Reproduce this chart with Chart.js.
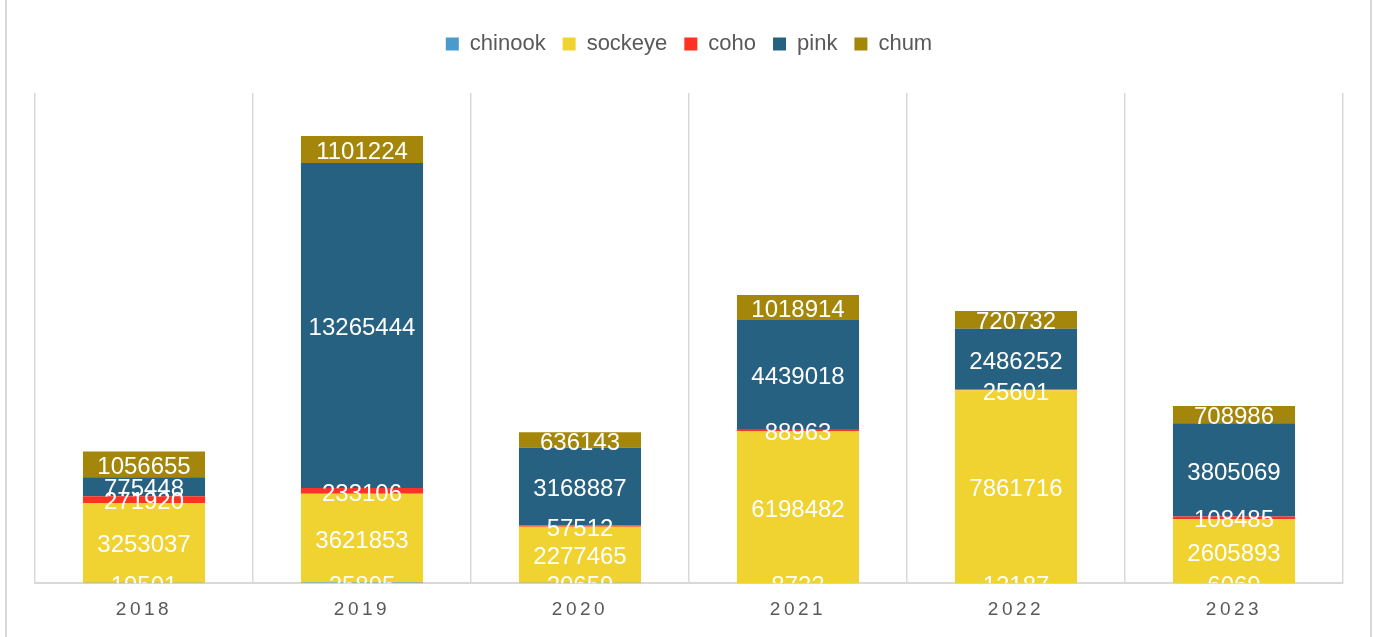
<!DOCTYPE html>
<html>
<head>
<meta charset="utf-8">
<script src="https://cdn.jsdelivr.net/npm/chart.js@4/dist/chart.umd.min.js"></script>
<style>
  body { margin: 0; background: #fff; }
  #wrap { position: relative; width: 1374px; height: 637px; }
</style>
</head>
<body>
<div id="wrap"><canvas id="myChart" width="1374" height="637"></canvas></div>
<script>
const years = ['2018', '2019', '2020', '2021', '2022', '2023']
const chinook = [19501, 25895, 20659, 8722, 12187, 6069]
const sockeye = [3253037, 3621853, 2277465, 6198482, 7861716, 2605893]
const coho = [271920, 233106, 57512, 88963, 25601, 108485]
const pink = [775448, 13265444, 3168887, 4439018, 2486252, 3805069]
const chum = [1056655, 1101224, 636143, 1018914, 720732, 708986]

const gridGrey = '#d9d9d9'
const textGrey = '#595959'

// white numbers centred in every segment, cut off at the plot edges
const segmentLabels = {
    id: 'segmentLabels',
    afterDatasetsDraw(chart) {
        const ctx = chart.ctx
        const area = chart.chartArea
        ctx.save()
        ctx.beginPath()
        ctx.rect(area.left, area.top, area.right - area.left, area.bottom - area.top)
        ctx.clip()
        ctx.font = '24px "Liberation Sans", Arial, sans-serif'
        ctx.fillStyle = '#ffffff'
        ctx.textAlign = 'center'
        ctx.textBaseline = 'middle'
        chart.data.datasets.forEach((ds, i) => {
            chart.getDatasetMeta(i).data.forEach((bar, j) => {
                ctx.fillText(String(ds.data[j]), bar.x, (bar.y + bar.base) / 2 + 3)
            })
        })
        ctx.restore()
    }
}

// extra room under the legend, spaced-out year labels, frame lines on both sides
const extras = {
    id: 'extras',
    beforeInit(chart) {
        const legend = chart.legend
        const fit = legend.fit.bind(legend)
        legend.fit = function () {
            fit()
            this.height += 28
        }
    },
    afterLayout(chart) {
        const s = chart.scales.x
        if (!s._spaced) {
            const orig = s.drawLabels.bind(s)
            s.drawLabels = (a) => {
                chart.ctx.letterSpacing = '3.5px'
                orig(a)
                chart.ctx.letterSpacing = '0px'
            }
            s._spaced = true
        }
    },
    afterDraw(chart) {
        const ctx = chart.ctx
        ctx.save()
        ctx.strokeStyle = gridGrey
        ctx.lineWidth = 2
        ctx.beginPath()
        ctx.moveTo(6, 0); ctx.lineTo(6, chart.height)
        ctx.moveTo(1371, 0); ctx.lineTo(1371, chart.height)
        ctx.stroke()
        ctx.restore()
    }
}

const ctx = document.getElementById('myChart')
new Chart(ctx, {
    type: 'bar',
    data: {
        labels: years,
        datasets: [
            { label: 'chinook', data: chinook, backgroundColor: '#4a9bcb' },
            { label: 'sockeye', data: sockeye, backgroundColor: '#f0d231' },
            { label: 'coho', data: coho, backgroundColor: '#ff3124' },
            { label: 'pink', data: pink, backgroundColor: '#266181' },
            { label: 'chum', data: chum, backgroundColor: '#a3860a' }
        ]
    },
    options: {
        responsive: false,
        animation: false,
        barPercentage: 0.56,
        categoryPercentage: 1,
        layout: { padding: { left: 35, right: 31, top: 16, bottom: 1 } },
        plugins: {
            tooltip: { enabled: false },
            legend: {
                position: 'top',
                labels: {
                    boxWidth: 13,
                    boxHeight: 13,
                    padding: 17,
                    color: textGrey,
                    font: { family: '"Liberation Sans", Arial, sans-serif', size: 22 }
                }
            }
        },
        scales: {
            x: {
                stacked: true,
                grid: { color: gridGrey, lineWidth: 1.5, drawTicks: false },
                border: { color: gridGrey, width: 2 },
                ticks: {
                    color: textGrey,
                    padding: 15,
                    font: { family: '"Liberation Sans", Arial, sans-serif', size: 19 }
                }
            },
            y: {
                stacked: true,
                display: false,
                min: 0,
                max: 20000000
            }
        }
    },
    plugins: [segmentLabels, extras]
})
</script>
</body>
</html>
